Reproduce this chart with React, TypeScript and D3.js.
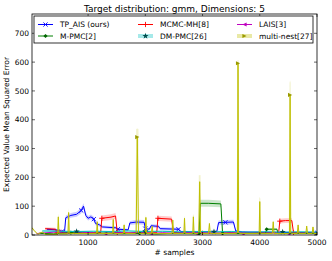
import React from "react";
import * as d3 from "d3";

// [samples, mean error, std]
const tpAis: [number, number, number][] = [
  [280, 20, 4], [450, 18, 4], [540, 12, 3], [590, 14, 3], [610, 60, 8], [700, 68, 8],
  [800, 72, 9], [880, 85, 10], [920, 100, 10], [960, 68, 9], [1000, 58, 8], [1050, 63, 8],
  [1100, 55, 8], [1130, 40, 6], [1200, 35, 6], [1250, 28, 5], [1480, 25, 5], [1520, 20, 4],
  [1700, 18, 4], [1730, 42, 7], [1850, 45, 8], [1980, 44, 8], [2000, 22, 5], [2070, 20, 5],
  [2100, 32, 6], [2230, 30, 6], [2260, 22, 5], [2580, 20, 5], [2620, 12, 3], [2900, 10, 3],
  [3250, 12, 3], [3280, 43, 7], [3400, 44, 8], [3540, 45, 8], [3580, 14, 3], [3700, 10, 3],
  [4200, 9, 2], [5000, 8, 2],
];
const mcmcMh: [number, number, number][] = [
  [250, 22, 5], [430, 20, 5], [460, 8, 3], [800, 6, 2], [1220, 8, 3], [1240, 58, 10],
  [1400, 62, 10], [1480, 66, 10], [1510, 8, 3], [1900, 6, 2], [2200, 8, 3], [2220, 58, 9],
  [2460, 55, 9], [2490, 8, 3], [3000, 6, 2], [3600, 7, 2], [4330, 8, 3], [4350, 48, 8],
  [4450, 50, 8], [4560, 50, 8], [4590, 8, 3], [5000, 6, 2],
];
const lais: [number, number, number][] = [
  [100, 5, 2], [300, 8, 3], [500, 12, 3], [700, 6, 2], [900, 10, 3], [1100, 7, 2],
  [1300, 5, 2], [1500, 9, 3], [1700, 6, 2], [1900, 10, 3], [2100, 5, 2], [2300, 8, 2],
  [2500, 6, 2], [2700, 9, 3], [2900, 5, 2], [3100, 7, 2], [3300, 6, 2], [3500, 8, 2],
  [3700, 5, 2], [3900, 7, 2], [4100, 6, 2], [4300, 8, 2], [4500, 5, 2], [4700, 7, 2],
  [4900, 5, 2], [5000, 6, 2],
];
const mPmc: [number, number, number][] = [
  [150, 6, 2], [400, 4, 2], [700, 8, 2], [1000, 5, 2], [1300, 7, 2], [1600, 5, 2],
  [1900, 6, 2], [2200, 4, 2], [2500, 6, 2], [2800, 5, 2], [2940, 5, 2], [2960, 110, 12],
  [3100, 110, 12], [3320, 108, 12], [3350, 6, 2], [3700, 5, 2], [4000, 6, 2], [4100, 5, 2],
  [4120, 20, 4], [4300, 20, 4], [4320, 5, 2], [4600, 6, 2], [5000, 5, 2],
];
const dmPmc: [number, number, number][] = [
  [200, 14, 3], [500, 13, 3], [800, 12, 3], [1100, 13, 3], [1400, 12, 3], [1700, 14, 3],
  [2000, 12, 3], [2300, 13, 3], [2600, 11, 3], [2900, 12, 3], [3200, 11, 3], [3500, 12, 3],
  [3800, 10, 3], [4100, 11, 3], [4400, 10, 3], [4700, 11, 3], [5000, 10, 3],
];
const multiNest: [number, number, number][] = [
  [20, 25, 5], [60, 15, 4], [120, 3, 2], [200, 10, 3], [260, 2, 1], [455, 3, 2],
  [470, 5, 50], [480, 63, 12], [490, 5, 50], [505, 4, 2], [635, 4, 2], [650, 6, 60],
  [660, 78, 15], [670, 6, 60], [685, 6, 3], [760, 5, 2], [1140, 5, 2], [1150, 6, 35],
  [1160, 46, 8], [1170, 6, 35], [1180, 5, 2], [1420, 5, 2], [1430, 6, 45], [1440, 54, 8],
  [1450, 6, 45], [1460, 5, 2], [1610, 5, 2], [1620, 6, 28], [1630, 35, 6], [1640, 6, 28],
  [1650, 5, 2], [1825, 5, 3], [1840, 8, 360], [1860, 340, 30], [1880, 8, 360], [1895, 6, 3],
  [1990, 5, 2], [2000, 6, 50], [2010, 61, 8], [2020, 6, 50], [2030, 5, 2], [2105, 5, 2],
  [2120, 30, 5], [2135, 5, 2], [2465, 5, 2], [2480, 52, 8], [2495, 5, 2], [2665, 5, 2],
  [2675, 6, 50], [2685, 58, 8], [2695, 6, 50], [2705, 5, 2], [2820, 5, 2], [2830, 6, 60],
  [2840, 63, 10], [2850, 6, 60], [2860, 5, 2], [2920, 5, 2], [2935, 8, 200], [2950, 185, 22],
  [2965, 8, 200], [2980, 5, 2], [3105, 5, 2], [3120, 40, 6], [3135, 5, 2], [3595, 5, 2],
  [3610, 8, 600], [3620, 596, 10], [3630, 8, 600], [3645, 5, 2], [3980, 5, 2], [3990, 6, 120],
  [4000, 116, 17], [4010, 6, 120], [4020, 5, 2], [4220, 5, 2], [4235, 46, 7], [4250, 5, 2],
  [4505, 5, 2], [4520, 8, 520], [4530, 486, 50], [4540, 8, 520], [4555, 5, 2], [4655, 5, 2],
  [4670, 35, 5], [4685, 5, 2], [4805, 5, 2], [4820, 31, 5], [4835, 5, 2], [4915, 5, 2],
  [4930, 28, 4], [4945, 5, 2], [5000, 5, 2],
];

const seriesNames = ["TP_AIS (ours)", "MCMC-MH[8]", "LAIS[3]", "M-PMC[2]", "DM-PMC[26]", "multi-nest[27]"];
const xTicks = [1000, 2000, 3000, 4000, 5000];
const yTicks = [0, 100, 200, 300, 400, 500, 600, 700];

const series = [
  { name: seriesNames[0], data: tpAis, color: "#0000ff", marker: "x", every: 5 },
  { name: seriesNames[1], data: mcmcMh, color: "#ff0000", marker: "+", every: 3 },
  { name: seriesNames[2], data: lais, color: "#bf00bf", marker: "<", every: 4 },
  { name: seriesNames[3], data: mPmc, color: "#008000", marker: "D", every: 4 },
  { name: seriesNames[4], data: dmPmc, color: "#00bfbf", marker: "*", every: 4 },
  { name: seriesNames[5], data: multiNest, color: "#bfbf00", marker: ">", every: 0 },
];

const W = 332, H = 261;
const left = 32, right = 317, top = 14, bottom = 235;
const x = d3.scaleLinear().domain([20, 5000]).range([left, right]);
const y = d3.scaleLinear().domain([0, 767]).range([bottom, top]);
const font = "DejaVu Sans, sans-serif";

function Marker({ type, cx, cy, color }: { type: string; cx: number; cy: number; color: string }) {
  const s = 2.1;
  if (type === "x")
    return <path d={`M${cx - s},${cy - s}L${cx + s},${cy + s}M${cx - s},${cy + s}L${cx + s},${cy - s}`} stroke={color} strokeWidth={0.9} />;
  if (type === "+")
    return <path d={`M${cx - s - 0.5},${cy}L${cx + s + 0.5},${cy}M${cx},${cy - s - 0.5}L${cx},${cy + s + 0.5}`} stroke={color} strokeWidth={0.9} />;
  if (type === "D")
    return <path d={`M${cx},${cy - s}L${cx + s},${cy}L${cx},${cy + s}L${cx - s},${cy}Z`} fill="#006400" />;
  if (type === "*") {
    const sym = d3.symbol(d3.symbolStar, 12)();
    return <path d={sym || ""} transform={`translate(${cx},${cy})`} fill="#004c4c" />;
  }
  if (type === "<")
    return <path d={`M${cx - s},${cy}L${cx + s},${cy - s}L${cx + s},${cy + s}Z`} fill={color} />;
  return <path d={`M${cx + s},${cy}L${cx - s},${cy - s}L${cx - s},${cy + s}Z`} fill="#9a9a00" />;
}

export default function App() {
  const line = d3.line<[number, number, number]>().x((d) => x(d[0])).y((d) => y(d[1]));
  const area = d3
    .area<[number, number, number]>()
    .x((d) => x(d[0]))
    .y0((d) => y(Math.max(0, d[1] - d[2])))
    .y1((d) => y(d[1] + d[2]));

  const legendCols = [38, 138, 237];
  const legendRows = [24.5, 36];

  // markers on the yellow curve sit at the tops of its tallest peaks
  const peakMarks = multiNest.filter((d) => d[1] > 300);

  return (
    <svg width={W} height={H} style={{ position: "absolute", left: 0, top: 0 }} fontFamily={font}>
      <rect width={W} height={H} fill="#fff" />
      <defs>
        <clipPath id="plot">
          <rect x={left} y={top} width={right - left} height={bottom - top} />
        </clipPath>
      </defs>
      <text x={(left + right) / 2} y={11.5} textAnchor="middle" fontSize={9}>
        Target distribution: gmm, Dimensions: 5
      </text>

      <g clipPath="url(#plot)">
        {series.map((s) => (
          <path key={s.name + "band"} d={area(s.data) || ""} fill={s.color} fillOpacity={0.2} stroke="none" />
        ))}
        {series.map((s) => (
          <g key={s.name}>
            <path d={line(s.data) || ""} fill="none" stroke={s.color} strokeWidth={1} />
            {s.every > 0 &&
              s.data
                .filter((_, i) => i % s.every === 2)
                .map((d, i) => <Marker key={i} type={s.marker} cx={x(d[0])} cy={y(d[1])} color={s.color} />)}
          </g>
        ))}
        {peakMarks.map((d, i) => (
          <Marker key={"pk" + i} type=">" cx={x(d[0])} cy={y(d[1])} color="#bfbf00" />
        ))}
      </g>

      <rect x={left} y={top} width={right - left} height={bottom - top} fill="none" stroke="#000" strokeWidth={0.8} />

      {xTicks.map((t) => (
        <g key={t}>
          <line x1={x(t)} x2={x(t)} y1={bottom} y2={bottom - 3} stroke="#000" strokeWidth={0.6} />
          <line x1={x(t)} x2={x(t)} y1={top} y2={top + 3} stroke="#000" strokeWidth={0.6} />
          <text x={x(t)} y={bottom + 10} textAnchor="middle" fontSize={7.5}>
            {t}
          </text>
        </g>
      ))}
      {yTicks.map((t) => (
        <g key={t}>
          <line x1={left} x2={left + 3} y1={y(t)} y2={y(t)} stroke="#000" strokeWidth={0.6} />
          <line x1={right} x2={right - 3} y1={y(t)} y2={y(t)} stroke="#000" strokeWidth={0.6} />
          <text x={29} y={y(t) + 2.7} textAnchor="end" fontSize={7.5}>
            {t}
          </text>
        </g>
      ))}

      <text x={(left + right) / 2} y={255} textAnchor="middle" fontSize={7.5}>
        # samples
      </text>
      <text transform={`translate(9,${(top + bottom) / 2}) rotate(-90)`} textAnchor="middle" fontSize={7.5}>
        Expected Value Mean Squared Error
      </text>

      {/* legend */}
      <rect x={34} y={16} width={279} height={27} fill="#fff" stroke="#000" strokeWidth={0.8} />
      {series.map((s, i) => {
        const lx = legendCols[i % 3];
        const ly = legendRows[Math.floor(i / 3)];
        const thick = i >= 4;
        return (
          <g key={s.name + "leg"}>
            {thick && <line x1={lx} x2={lx + 15} y1={ly} y2={ly} stroke={s.color} strokeOpacity={0.35} strokeWidth={4} />}
            <line x1={lx} x2={lx + 15} y1={ly} y2={ly} stroke={s.color} strokeWidth={thick ? 0 : 1} />
            <Marker type={s.marker} cx={lx + 7.5} cy={ly} color={s.color} />
            <text x={lx + 22} y={ly + 2.6} fontSize={7.5}>
              {s.name}
            </text>
          </g>
        );
      })}
    </svg>
  );
}
